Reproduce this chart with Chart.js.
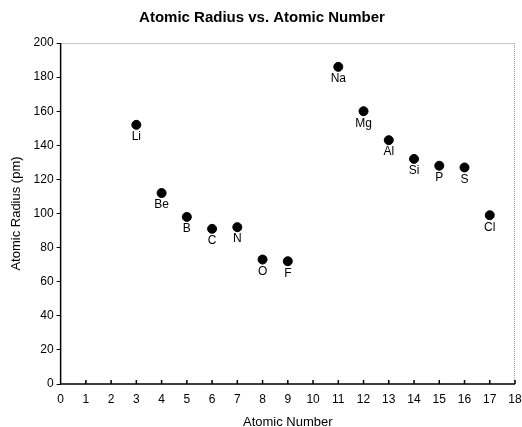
<!DOCTYPE html>
<html>
<head>
<meta charset="utf-8">
<script src="https://cdn.jsdelivr.net/npm/chart.js@4/dist/chart.umd.min.js"></script>
<style>
  html, body { margin: 0; padding: 0; background: #fff; }
  #wrap { width: 522px; height: 427px; }
</style>
</head>
<body>
<div id="wrap"><canvas id="c"></canvas></div>
<script>
// values
const symbols = ['Li', 'Be', 'B', 'C', 'N', 'O', 'F', 'Na', 'Mg', 'Al', 'Si', 'P', 'S', 'Cl'];
const atomicNumbers = [3, 4, 5, 6, 7, 8, 9, 11, 12, 13, 14, 15, 16, 17];
const radii = [152, 112, 98, 91, 92, 73, 72, 186, 160, 143, 132, 128, 127, 99];

const FONT = "'Liberation Sans', Arial, sans-serif";

// element symbol under each dot
const pointLabels = {
  id: 'pointLabels',
  afterDatasetsDraw(chart) {
    const ctx = chart.ctx;
    const meta = chart.getDatasetMeta(0);
    ctx.save();
    ctx.fillStyle = '#000';
    ctx.font = '12px ' + FONT;
    ctx.textAlign = 'center';
    ctx.textBaseline = 'top';
    meta.data.forEach((pt, i) => {
      ctx.fillText(symbols[i], pt.x, pt.y + 6);
    });
    ctx.restore();
  }
};

// plot frame: solid left/bottom axes, light top/right, inward x ticks
const frame = {
  id: 'frame',
  beforeDatasetsDraw(chart) {
    const { ctx, chartArea: a, scales } = chart;
    ctx.save();
    ctx.strokeStyle = '#999';
    ctx.lineWidth = 1;
    ctx.setLineDash([1, 1]);
    ctx.beginPath();
    ctx.moveTo(a.left, a.top + 0.5);
    ctx.lineTo(a.right, a.top + 0.5);
    ctx.moveTo(a.right - 0.5, a.top);
    ctx.lineTo(a.right - 0.5, a.bottom);
    ctx.stroke();
    ctx.setLineDash([]);
    ctx.strokeStyle = '#000';
    ctx.lineWidth = 1.5;
    ctx.beginPath();
    ctx.moveTo(a.left, a.top);
    ctx.lineTo(a.left, a.bottom);
    ctx.lineTo(a.right, a.bottom);
    scales.x.ticks.forEach(t => {
      const x = scales.x.getPixelForValue(t.value);
      ctx.moveTo(x, a.bottom);
      ctx.lineTo(x, a.bottom - 4);
    });
    ctx.stroke();
    ctx.restore();
  }
};

new Chart(document.getElementById('c'), {
  type: 'scatter',
  data: {
    datasets: [{
      data: atomicNumbers.map((n, i) => ({ x: n, y: radii[i] })),
      backgroundColor: '#000',
      borderColor: '#000',
      pointRadius: 4.5,
      pointHoverRadius: 4.5
    }]
  },
  options: {
    responsive: true,
    maintainAspectRatio: false,
    animation: false,
    layout: { padding: { top: 6, right: 7, bottom: -3, left: 9 } },
    plugins: {
      legend: { display: false },
      tooltip: { enabled: false },
      title: {
        display: true,
        text: 'Atomic Radius vs. Atomic Number',
        color: '#000',
        font: { family: FONT, size: 15, weight: 'bold' },
        padding: { top: 3, bottom: 16 }
      }
    },
    scales: {
      x: {
        type: 'linear',
        min: 0,
        max: 18,
        afterFit: s => { s.paddingRight = 0; },
        ticks: { stepSize: 1, color: '#000', font: { family: FONT, size: 12 }, padding: 8, maxRotation: 0 },
        grid: { display: false, drawTicks: false },
        border: { display: false },
        title: { display: true, text: 'Atomic Number', color: '#000', font: { family: FONT, size: 13 }, padding: { top: 0, bottom: 0 } }
      },
      y: {
        min: 0,
        max: 200,
        ticks: { stepSize: 20, color: '#000', font: { family: FONT, size: 12 }, padding: 3 },
        grid: { drawOnChartArea: false, drawTicks: true, tickLength: 4, color: '#000' },
        border: { display: false },
        title: { display: true, text: 'Atomic Radius (pm)', color: '#000', font: { family: FONT, size: 13 }, padding: { top: 0, bottom: 6 } }
      }
    }
  },
  plugins: [frame, pointLabels]
});
</script>
</body>
</html>
